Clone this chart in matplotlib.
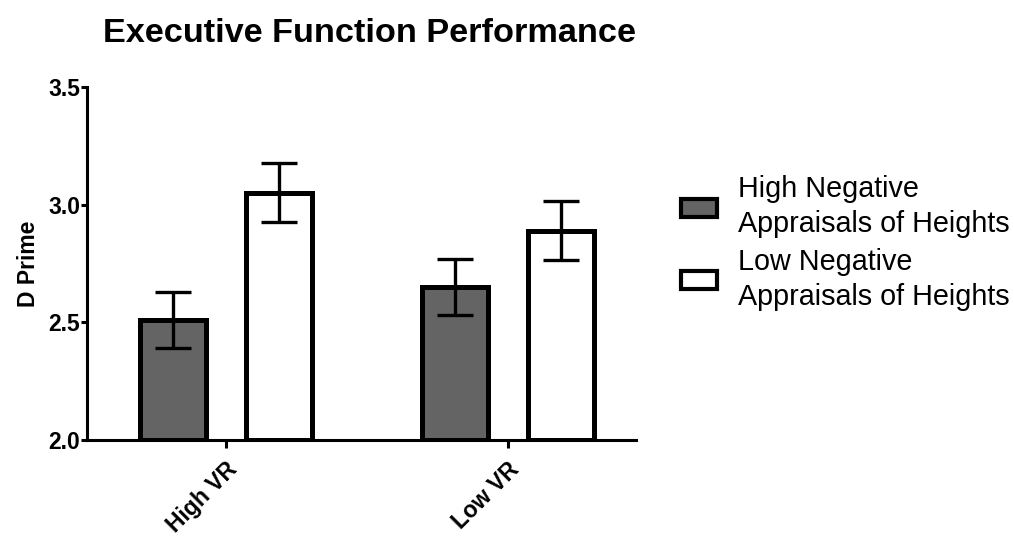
import numpy as np
import matplotlib
matplotlib.use('Agg')
import matplotlib.pyplot as plt

plt.rcParams['font.family'] = ['Liberation Sans', 'DejaVu Sans']

# data
groups = ['High VR', 'Low VR']
series = ['High Negative\nAppraisals of Heights', 'Low Negative\nAppraisals of Heights']
high_neg_mean = [2.51, 2.65]
high_neg_sem = [0.12, 0.12]
low_neg_mean = [3.05, 2.89]
low_neg_sem = [0.125, 0.125]
colors = ['#646464', '#ffffff']

fig = plt.figure(figsize=(10.14, 5.44), dpi=100)
ax = fig.add_axes([87 / 1014, 104 / 544, 549 / 1014, 353 / 544])

x = np.arange(len(groups))
offset = 0.188
width = 0.235
lw = 3.6

for i, (m, s) in enumerate([(high_neg_mean, high_neg_sem), (low_neg_mean, low_neg_sem)]):
    pos = x + (i * 2 - 1) * offset
    ax.bar(pos, np.array(m) - 2.0, bottom=2.0, width=width, color=colors[i],
           edgecolor='black', linewidth=lw, label=series[i], zorder=2)
    ax.errorbar(pos, m, yerr=s, fmt='none', ecolor='black', elinewidth=2.4,
                capsize=13, capthick=2.4, zorder=3)

ax.set_xlim(-0.493, 1.454)
ax.set_ylim(2.0, 3.5)
ax.set_yticks([2.0, 2.5, 3.0, 3.5])
ax.set_yticklabels(['2.0', '2.5', '3.0', '3.5'], fontsize=16.5, fontweight='bold')
ax.set_xticks(x)
ax.set_xticklabels(groups, fontsize=16.5, fontweight='bold', rotation=45,
                   ha='right', va='top', rotation_mode='anchor')
ax.tick_params(axis='both', width=2.2, length=4, pad=1)
ax.tick_params(axis='x', length=6, pad=7)
for side in ['top', 'right']:
    ax.spines[side].set_visible(False)
for side in ['left', 'bottom']:
    ax.spines[side].set_linewidth(2.2)

ax.set_ylabel('D Prime', fontsize=16.5, fontweight='bold', labelpad=6)
fig.text(103 / 1014, 1 - 33 / 544, 'Executive Function Performance',
         fontsize=24.7, fontweight='bold', ha='left', va='center')

leg = fig.legend(loc='center left', bbox_to_anchor=(661 / 1014, 1 - 243 / 544),
                 frameon=False, fontsize=20.7, handlelength=1.26, handleheight=0.58,
                 handletextpad=0.72, labelspacing=0.32, borderpad=0.2)
for t in leg.get_texts():
    t.set_linespacing(1.33)
for h in leg.legend_handles:
    h.set_linewidth(3.0)

fig.savefig('out.png', dpi=100)
